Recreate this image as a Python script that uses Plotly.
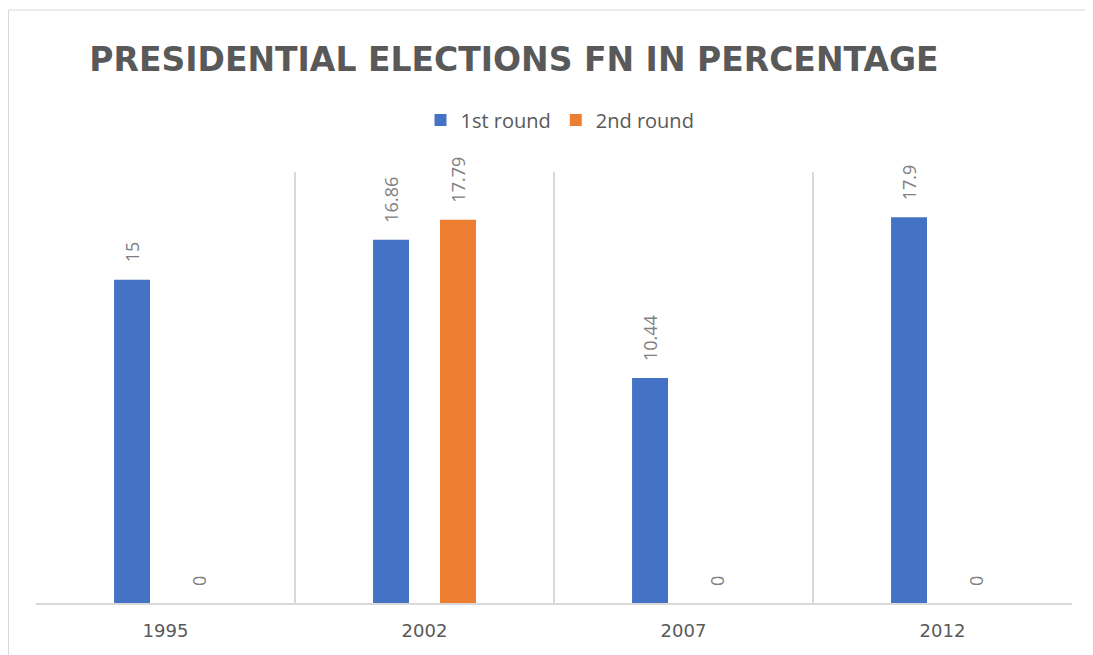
import plotly.graph_objects as go

years = ["1995", "2002", "2007", "2012"]
first_round = [15, 16.86, 10.44, 17.9]
second_round = [0, 17.79, 0, 0]
series_names = ["1st round", "2nd round"]
colors = ["#4472C4", "#ED7D31"]

OFF = 8  # page body margin
W, H = 1093 - OFF, 655 - OFF
ml, mt = 36 - OFF, 172 - OFF
pw, ph = 1036, 431
mr, mb = W - ml - pw, H - mt - ph

def px_x(p):
    return (p - OFF - ml) / pw

def px_y(p):
    return (mt + ph - (p - OFF)) / ph

fig = go.Figure()
for name, vals, c in zip(series_names, [first_round, second_round], colors):
    fig.add_trace(go.Bar(x=years, y=vals, name=name,
                         marker=dict(color=c, line=dict(width=0))))

shifts = [-33.5, 33.5]
for vals, sh in zip([first_round, second_round], shifts):
    for i, v in enumerate(vals):
        fig.add_annotation(x=i, y=v, text=f"{v:g}", showarrow=False,
                           textangle=-90, xanchor="center", yanchor="bottom",
                           xshift=sh, yshift=15,
                           font=dict(family="Open Sans", size=18, color="#808080"))

fig.update_layout(
    width=W, height=H,
    margin=dict(l=ml, r=mr, t=mt, b=mb),
    paper_bgcolor="white", plot_bgcolor="white",
    barmode="group", bargap=0.483, bargroupgap=0.463,
    title=dict(text="<b>PRESIDENTIAL ELECTIONS FN IN PERCENTAGE</b>",
               x=(514 - OFF) / W, xanchor="center", y=1 - (59 - OFF) / H, yanchor="middle",
               xref="container", yref="container",
               font=dict(family="DejaVu Sans", size=33, color="#595959")),
    legend=dict(orientation="h", x=px_x(560), xanchor="center", y=px_y(120), yanchor="middle",
                font=dict(family="Open Sans", size=20, color="#595959"),
                itemwidth=30, traceorder="normal"),
    xaxis=dict(type="category", categoryorder="array", categoryarray=years,
               range=[-0.5, len(years) - 0.5], autorange=False,
               tickson="boundaries", showgrid=True, gridcolor="#d9d9d9", gridwidth=1.5,
               showline=True, linecolor="#d9d9d9", linewidth=2, ticks="",
               ticklabelstandoff=10,
               tickfont=dict(family="DejaVu Sans", size=18, color="#595959")),
    yaxis=dict(range=[0, 20], autorange=False, visible=False, showgrid=False, zeroline=False),
    showlegend=True,
)
fig.add_shape(type="rect", xref="paper", yref="paper",
              x0=-(ml - 0.5) / pw, x1=1.2, y0=-0.5, y1=px_y(10),
              line=dict(color="#d9d9d9", width=1), layer="below")

fig.write_html("out.html")
